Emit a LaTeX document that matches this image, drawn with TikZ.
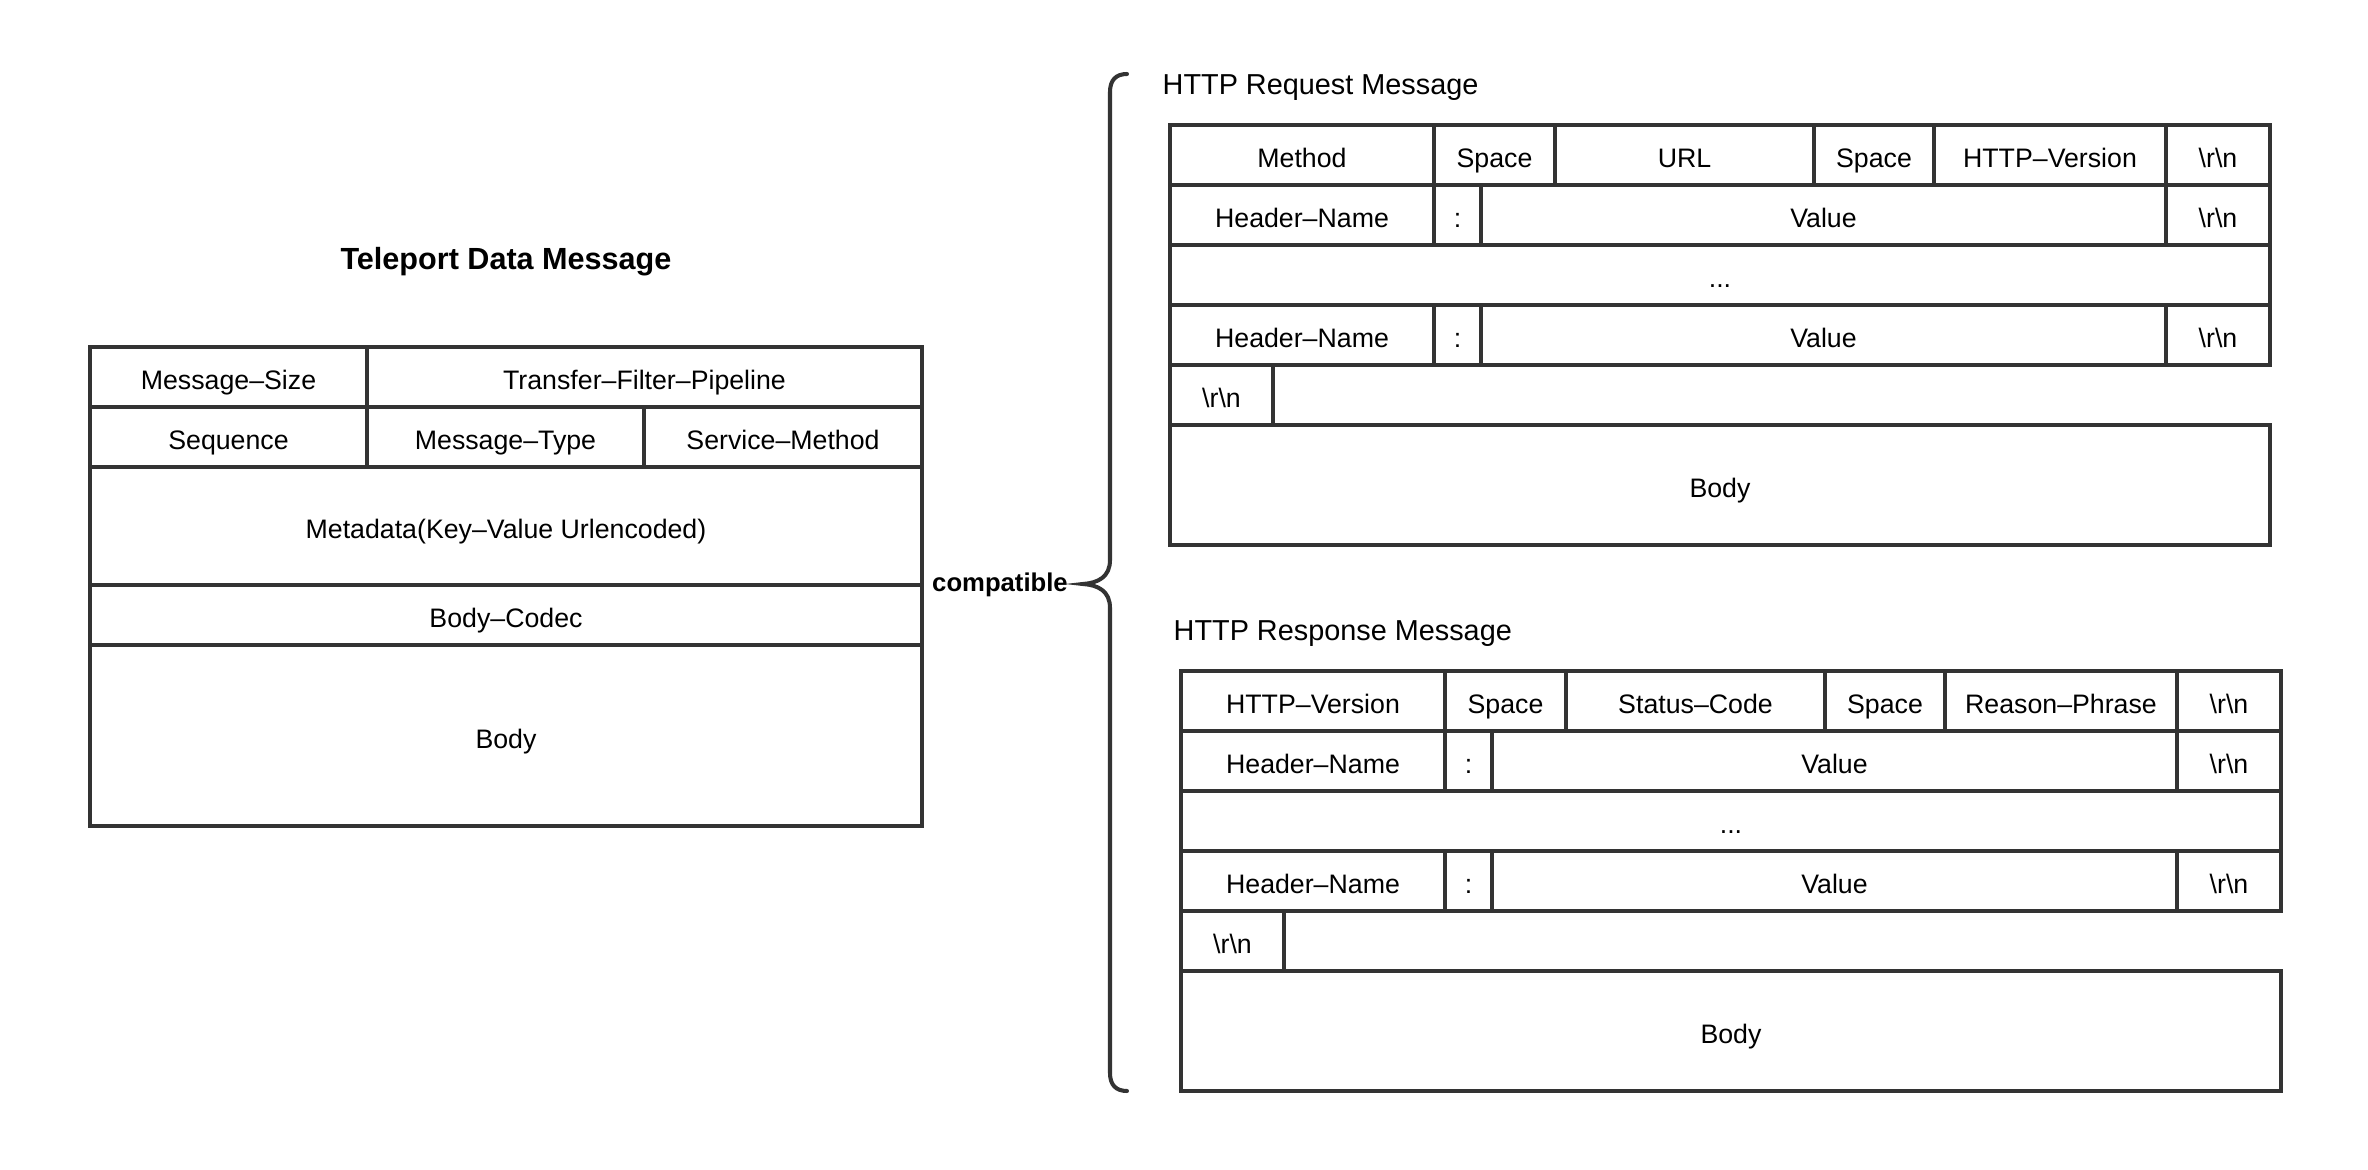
\documentclass[tikz,border=0pt]{standalone}
\usepackage{fontspec}
\setmainfont{Liberation Sans}
\usepackage{xcolor}
\definecolor{linegray}{HTML}{333333}
\tikzset{
  cellbox/.style={draw=linegray, line width=1.15pt, rectangle, inner sep=0pt, outer sep=0pt,
    anchor=north west, text height=0.72em, text depth=0pt, font=\fontsize{7.6}{9}\selectfont},
  msgtitle/.style={font=\bfseries\fontsize{8.7}{10}\selectfont},
  subtitle/.style={anchor=west, inner sep=0pt, font=\fontsize{8.2}{10}\selectfont},
  compat/.style={font=\bfseries\fontsize{7.3}{9}\selectfont},
  bracket/.style={draw=linegray, line width=1.15pt, line cap=round}
}
\newcommand{\rn}{\textbackslash r\textbackslash n}
% cell: name, left, top, right, bottom, text
\newcommand{\fieldcell}[6]{\node[cellbox, minimum width={(#4-#2)*0.01cm}, minimum height={(#5-#3)*0.01cm}] (#1) at (#2,#3) {#6};}

\begin{document}
\begin{tikzpicture}[x=0.01cm, y=-0.01cm]
  \useasboundingbox (0,0) rectangle (2368,1170);

  % teleport message
  \node[msgtitle] (tdmtitle) at (506,262) {Teleport Data Message};
  \fieldcell{msgsize}{90}{347}{367}{407}{Message--Size}
  \fieldcell{pipeline}{367}{347}{922}{407}{Transfer--Filter--Pipeline}
  \foreach \nm/\a/\b/\txt in {seq/90/367/Sequence, mtype/367/644/Message--Type, smethod/644/922/Service--Method}{
    \fieldcell{\nm}{\a}{407}{\b}{467}{\txt}
  }
  \fieldcell{metadata}{90}{467}{922}{585}{Metadata(Key--Value Urlencoded)}
  \fieldcell{bodycodec}{90}{585}{922}{645}{Body--Codec}
  \fieldcell{tdmbody}{90}{645}{922}{826}{Body}

  \node[compat] (compat) at (1000,585) {compatible};
  \coordinate (bracetip) at (1083,584);
  \draw[bracket] (1127,74) .. controls (1116,74) and (1110,80) .. (1110,92) -- (1110,560)
    .. controls (1110,577) and (1098,583) .. (bracetip)
    .. controls (1098,585) and (1110,591) .. (1110,608) -- (1110,1073)
    .. controls (1110,1085) and (1116,1091) .. (1127,1091);

  % first lines
  \foreach \nm/\a/\b/\txt in {method/1170/1434/Method, spa/1434/1555/Space, url/1555/1814/URL,
      spb/1814/1934/Space, ver/1934/2166/HTTP--Version, crlf/2166/2270/\rn}{
    \fieldcell{req\nm}{\a}{125}{\b}{185}{\txt}
  }
  \begin{scope}[shift={(11,546)}]
    \foreach \nm/\a/\b/\txt in {ver/1170/1434/HTTP--Version, spa/1434/1555/Space, code/1555/1814/Status--Code,
        spb/1814/1934/Space, reason/1934/2166/Reason--Phrase, crlf/2166/2270/\rn}{
      \fieldcell{rsp\nm}{\a}{125}{\b}{185}{\txt}
    }
  \end{scope}

  % headers and body
  \foreach \pre/\dx/\dy/\ttl in {req/0/0/HTTP Request Message, rsp/11/546/HTTP Response Message}{
    \begin{scope}[shift={(\dx,\dy)}]
      \node[subtitle] (\pre title) at (1162,88) {\ttl};
      \foreach \r/\y in {a/185, b/305}{
        \fieldcell{\pre hn\r}{1170}{\y}{1434}{\y+60}{Header--Name}
        \fieldcell{\pre colon\r}{1434}{\y}{1481}{\y+60}{:}
        \fieldcell{\pre val\r}{1481}{\y}{2166}{\y+60}{Value}
        \fieldcell{\pre crlf\r}{2166}{\y}{2270}{\y+60}{\rn}
      }
      \fieldcell{\pre dots}{1170}{245}{2270}{305}{...}
      \fieldcell{\pre crlfend}{1170}{365}{1273}{425}{\rn}
      \fieldcell{\pre body}{1170}{425}{2270}{545}{Body}
    \end{scope}
  }
\end{tikzpicture}
\end{document}
